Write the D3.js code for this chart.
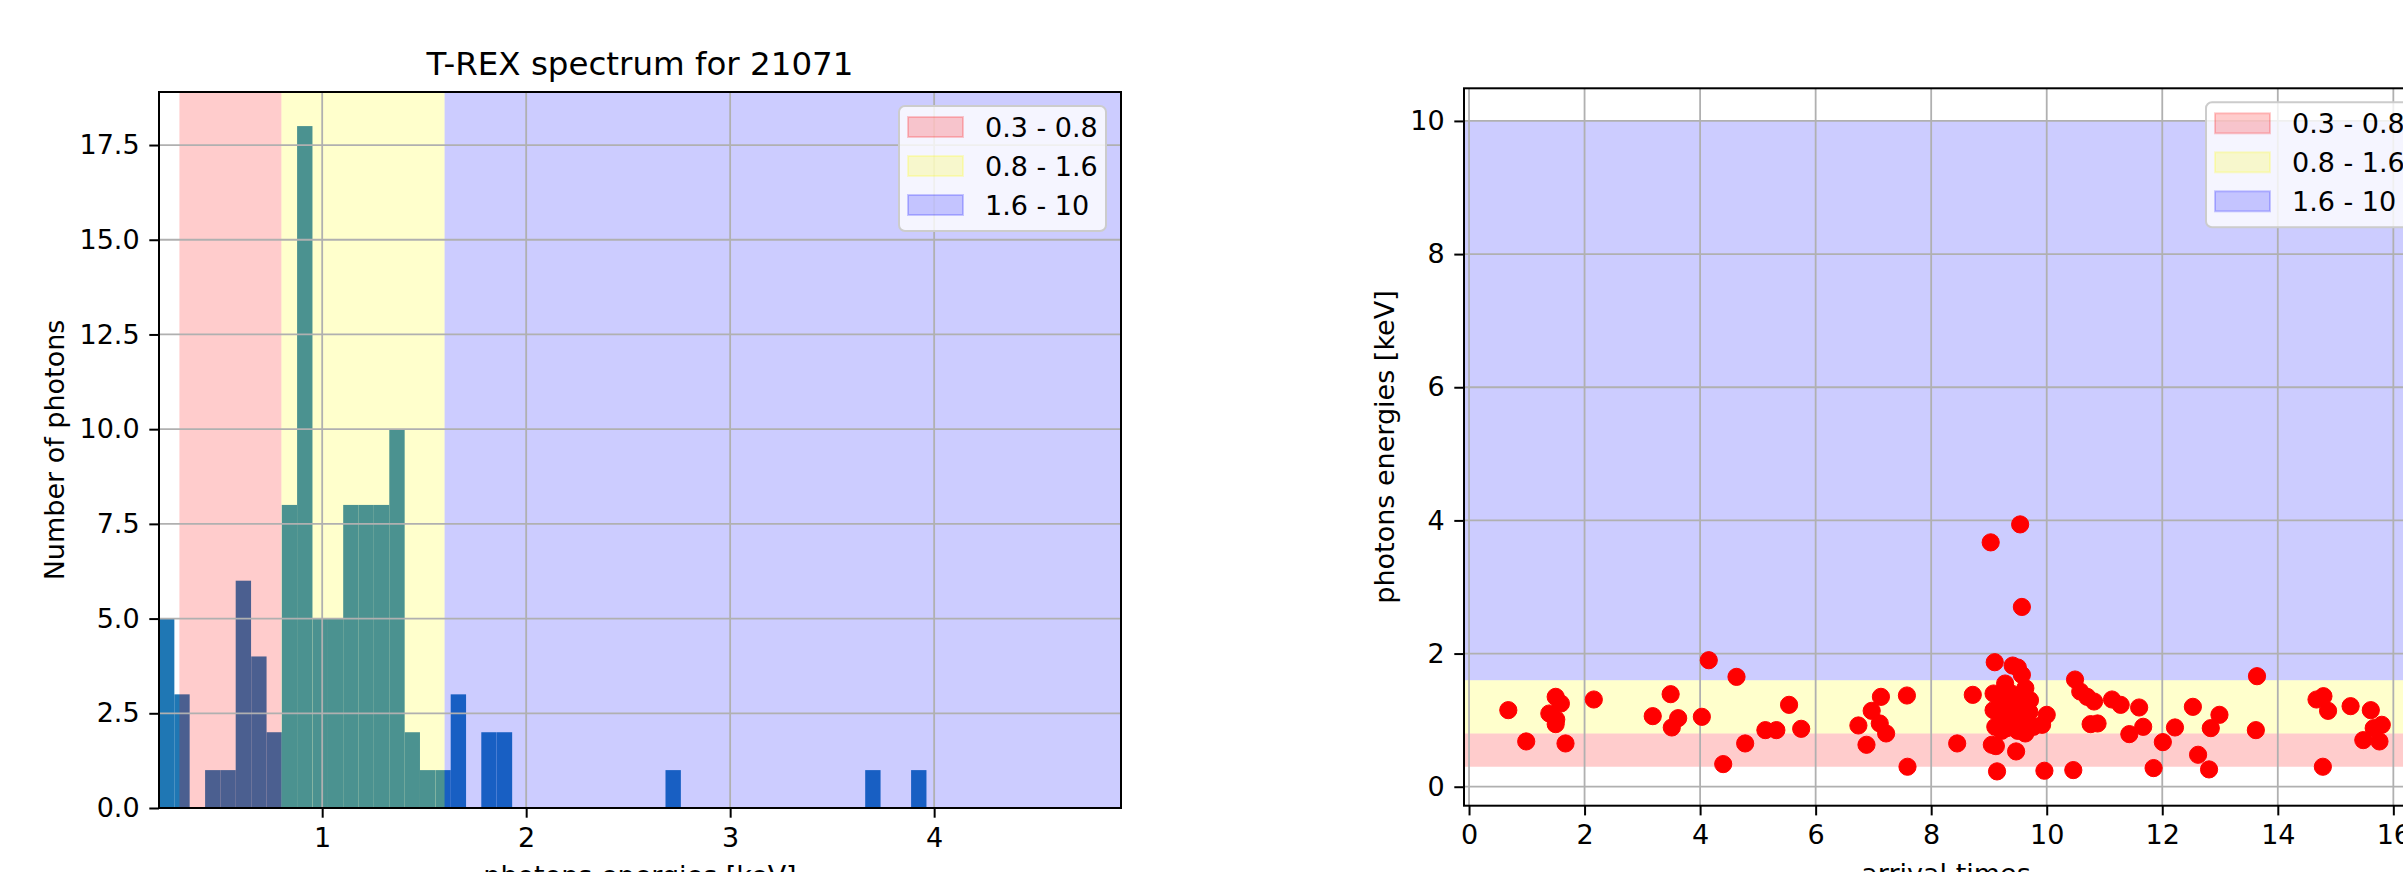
<!DOCTYPE html>
<html lang="en">
<head>
<meta charset="UTF-8">
<title>T-REX spectrum for 21071</title>
<script src="https://cdnjs.cloudflare.com/ajax/libs/d3/7.8.5/d3.min.js"></script>
<style>
    body { margin: 0; background: #fff; }
    svg { display: block; font-family: "DejaVu Sans", sans-serif; }
</style>
</head>
<body>
<div id="chart"></div>
<script>
    // histogram: left edge of every non-empty bin [keV] and its count
    var binWidth = 0.0753;
    var binLo = [0.200, 0.275, 0.426, 0.501, 0.576, 0.652, 0.727, 0.802, 0.877, 0.953, 1.028, 1.103,
        1.178, 1.254, 1.329, 1.404, 1.479, 1.555, 1.630, 1.780, 1.856, 2.683, 3.662, 3.887];
    var binCount = [5, 3, 1, 1, 6, 4, 2, 8, 18, 5, 5, 8, 8, 8, 10, 2, 1, 1, 3, 2, 2, 1, 1, 1];

    // energy bands shaded on both panels
    var bandLo = [0.3, 0.8, 1.6];
    var bandHi = [0.8, 1.6, 10];
    var bandColor = ['red', 'yellow', 'blue'];
    var bandLabel = ['0.3 - 0.8', '0.8 - 1.6', '1.6 - 10'];

    // photons: arrival time and energy [keV]
    var arrivalTimes = [
        0.68, 0.99, 1.50, 1.59, 1.39, 1.51, 1.50, 1.67, 2.16, 3.18, 3.49, 3.62, 3.51, 4.03, 4.15, 4.63,
        4.40, 4.78, 5.13, 5.32, 5.54, 5.75, 6.74, 6.88, 6.97, 7.13, 7.11, 7.22,
        7.58, 7.59, 8.45, 8.72,
        9.03, 9.54, 9.57,
        9.10, 9.41, 9.50, 9.57, 9.28, 9.08, 9.39, 9.63, 9.71, 9.19, 9.45, 9.57, 9.08, 10.00, 9.92, 9.11,
        9.31, 9.48, 9.63, 9.77, 9.05, 9.12, 9.47, 9.14, 9.96,
        9.20, 9.30, 9.36, 9.52, 9.62, 9.70, 9.25, 9.55, 9.40, 9.66, 9.22, 9.50,
        10.46, 10.49, 10.58, 10.70, 10.82, 11.13, 11.28, 11.60, 11.67, 11.43, 10.76, 10.88, 11.85, 12.01,
        12.22, 12.53, 12.62, 12.81, 12.84, 12.99, 13.64, 13.62,
        14.67, 14.79, 14.87, 15.26, 15.61, 15.80, 15.66, 15.48, 15.76, 14.78
    ];
    var photonEnergies = [
        1.15, 0.68, 1.35, 1.25, 1.10, 1.01, 0.94, 0.65, 1.31, 1.06, 1.39, 1.03, 0.89, 1.05, 1.90, 1.65,
        0.34, 0.65, 0.85, 0.85, 1.23, 0.87, 0.92, 0.63, 1.14, 1.35, 0.95, 0.80,
        1.37, 0.30, 0.65, 1.38,
        3.67, 3.94, 2.70,
        1.87, 1.82, 1.79, 1.68, 1.55, 1.40, 1.40, 1.48, 1.30, 1.23, 1.25, 1.13, 1.15, 1.08, 0.93, 0.90,
        0.88, 0.95, 0.80, 0.90, 0.63, 0.61, 0.53, 0.23, 0.24,
        1.00, 1.05, 0.97, 1.02, 1.04, 1.12, 1.31, 1.30, 1.16, 0.86, 0.84, 0.84,
        0.25, 1.61, 1.43, 1.35, 1.28, 1.31, 1.23, 1.19, 0.90, 0.79, 0.94, 0.95, 0.28, 0.67,
        0.89, 1.20, 0.48, 0.26, 0.88, 1.08, 1.66, 0.85,
        1.31, 1.36, 1.14, 1.21, 1.15, 0.93, 0.88, 0.70, 0.68, 0.30
    ];

    var specXTicks = [1, 2, 3, 4];
    var specYTicks = [0, 2.5, 5, 7.5, 10, 12.5, 15, 17.5];
    var timeXTicks = [0, 2, 4, 6, 8, 10, 12, 14, 16];
    var timeYTicks = [0, 2, 4, 6, 8, 10];

    var W = 2403, H = 872;
    var FONT = 27;
    var GRID = '#b0b0b0';

    var svg = d3.select('#chart').append('svg')
        .attr('width', W)
        .attr('height', H);

    function clip(id, x, y) {
        svg.append('clipPath').attr('id', id)
            .append('rect')
            .attr('x', x.range()[0]).attr('y', y.range()[1])
            .attr('width', x.range()[1] - x.range()[0])
            .attr('height', y.range()[0] - y.range()[1]);
    }

    function grid(g, x, y, xt, yt) {
        g.append('g').selectAll('line').data(xt).enter().append('line')
            .attr('x1', d => x(d)).attr('x2', d => x(d))
            .attr('y1', y.range()[0]).attr('y2', y.range()[1])
            .attr('stroke', GRID).attr('stroke-width', 1.8);
        g.append('g').selectAll('line').data(yt).enter().append('line')
            .attr('y1', d => y(d)).attr('y2', d => y(d))
            .attr('x1', x.range()[0]).attr('x2', x.range()[1])
            .attr('stroke', GRID).attr('stroke-width', 1.8);
    }

    function axes(x, y, xt, yt, yfmt) {
        var ax = svg.append('g')
            .attr('transform', 'translate(0,' + y.range()[0] + ')')
            .call(d3.axisBottom(x).tickValues(xt).tickSize(9.7).tickPadding(9.7).tickFormat(d3.format('d')));
        var ay = svg.append('g')
            .attr('transform', 'translate(' + x.range()[0] + ',0)')
            .call(d3.axisLeft(y).tickValues(yt).tickSize(9.7).tickPadding(9.7).tickFormat(yfmt));
        [ax, ay].forEach(a => {
            a.select('.domain').remove();
            a.selectAll('line').attr('stroke', '#000').attr('stroke-width', 2);
            a.selectAll('text').attr('font-size', FONT).attr('font-family', '"DejaVu Sans", sans-serif').attr('fill', '#000');
        });
        svg.append('rect')
            .attr('x', x.range()[0]).attr('y', y.range()[1])
            .attr('width', x.range()[1] - x.range()[0])
            .attr('height', y.range()[0] - y.range()[1])
            .attr('fill', 'none').attr('stroke', '#000').attr('stroke-width', 2);
    }

    function legend(right, top) {
        var w = 207, h = 125;
        var L = svg.append('g').attr('transform', 'translate(' + (right - w) + ',' + top + ')');
        L.append('rect')
            .attr('width', w).attr('height', h).attr('rx', 6)
            .attr('fill', '#fff').attr('fill-opacity', 0.8)
            .attr('stroke', '#cccccc').attr('stroke-width', 2);
        bandLabel.forEach((lab, i) => {
            var cy = 21 + i * 39;
            L.append('rect')
                .attr('x', 9).attr('y', cy - 10).attr('width', 55).attr('height', 20)
                .attr('fill', bandColor[i]).attr('fill-opacity', 0.2)
                .attr('stroke', bandColor[i]).attr('stroke-opacity', 0.2).attr('stroke-width', 2);
            L.append('text')
                .attr('x', 86).attr('y', cy).attr('dy', '0.36em')
                .attr('font-size', FONT)
                .text(lab);
        });
    }

    // ---------- left: spectrum ----------
    var sx = d3.scaleLinear().domain([0.2, 4.916]).range([159, 1121]);
    var sy = d3.scaleLinear().domain([0, 18.9]).range([808, 92]);
    clip('clipSpec', sx, sy);

    var spec = svg.append('g').attr('clip-path', 'url(#clipSpec)');
    spec.selectAll('rect.bar')
        .data(binLo)
        .enter()
        .append('rect')
        .attr('class', 'bar')
        .attr('x', d => sx(d))
        .attr('width', d => sx(d + binWidth) - sx(d))
        .attr('y', (d, i) => sy(binCount[i]))
        .attr('height', (d, i) => sy(0) - sy(binCount[i]))
        .attr('fill', '#1f77b4');
    // bands drawn over the bars, as in the original
    spec.selectAll('rect.band')
        .data(bandLo)
        .enter()
        .append('rect')
        .attr('class', 'band')
        .attr('x', d => sx(d))
        .attr('width', (d, i) => sx(bandHi[i]) - sx(d))
        .attr('y', sy.range()[1])
        .attr('height', sy.range()[0] - sy.range()[1])
        .attr('fill', (d, i) => bandColor[i])
        .attr('fill-opacity', 0.2);
    grid(spec, sx, sy, specXTicks, specYTicks);
    axes(sx, sy, specXTicks, specYTicks, d3.format('.1f'));
    legend(sx.range()[1] - 15, sy.range()[1] + 14);

    svg.append('text')
        .attr('x', (sx.range()[0] + sx.range()[1]) / 2).attr('y', 75)
        .attr('text-anchor', 'middle').attr('font-size', 32.5)
        .text('T-REX spectrum for 21071');
    svg.append('text')
        .attr('x', (sx.range()[0] + sx.range()[1]) / 2).attr('y', 885)
        .attr('text-anchor', 'middle').attr('font-size', FONT)
        .text('photons energies [keV]');
    svg.append('text')
        .attr('transform', 'translate(64,' + (sy.range()[0] + sy.range()[1]) / 2 + ') rotate(-90)')
        .attr('text-anchor', 'middle').attr('font-size', FONT)
        .text('Number of photons');

    // ---------- right: arrival times ----------
    var tx = d3.scaleLinear().domain([-0.087, 16.6]).range([1464, 2428]);
    var ty = d3.scaleLinear().domain([-0.285, 10.49]).range([805.7, 88.3]);
    clip('clipTime', tx, ty);

    var time = svg.append('g').attr('clip-path', 'url(#clipTime)');
    time.selectAll('rect.band')
        .data(bandLo)
        .enter()
        .append('rect')
        .attr('class', 'band')
        .attr('x', tx.range()[0])
        .attr('width', tx.range()[1] - tx.range()[0])
        .attr('y', (d, i) => ty(bandHi[i]))
        .attr('height', (d, i) => ty(d) - ty(bandHi[i]))
        .attr('fill', (d, i) => bandColor[i])
        .attr('fill-opacity', 0.2);
    grid(time, tx, ty, timeXTicks, timeYTicks);
    time.selectAll('circle')
        .data(arrivalTimes)
        .enter()
        .append('circle')
        .attr('cx', d => tx(d))
        .attr('cy', (d, i) => ty(photonEnergies[i]))
        .attr('r', 8.6)
        .attr('fill', 'red')
        .attr('stroke', 'red')
        .attr('stroke-width', 1);
    axes(tx, ty, timeXTicks, timeYTicks, d3.format('d'));
    legend(tx.range()[1] - 15, ty.range()[1] + 14);

    svg.append('text')
        .attr('x', (tx.range()[0] + tx.range()[1]) / 2).attr('y', 883)
        .attr('text-anchor', 'middle').attr('font-size', FONT)
        .text('arrival times');
    svg.append('text')
        .attr('transform', 'translate(1394,' + (ty.range()[0] + ty.range()[1]) / 2 + ') rotate(-90)')
        .attr('text-anchor', 'middle').attr('font-size', FONT)
        .text('photons energies [keV]');
</script>
</body>
</html>
